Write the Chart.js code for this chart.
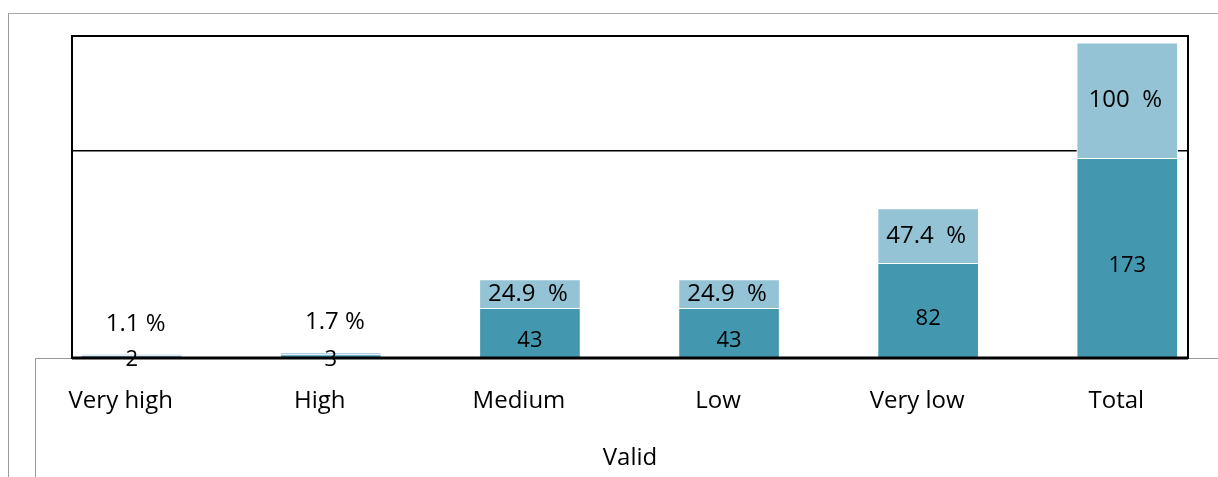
<!DOCTYPE html>
<html>
<head>
<meta charset="utf-8">
<script src="https://cdn.jsdelivr.net/npm/chart.js@4/dist/chart.umd.min.js"></script>
<style>
  html, body { margin: 0; padding: 0; background: #fff; }
  #wrap { position: relative; width: 1218px; height: 477px; overflow: hidden; }
  #frame { position: absolute; left: 8px; top: 13px; right: -2px; bottom: -2px; border-left: 1px solid #999; border-top: 1px solid #aaa; }
  #axisBox { position: absolute; left: 35px; top: 358px; right: -2px; bottom: -2px; border-left: 1px solid #999; border-top: 1px solid #999; }
  canvas { position: absolute; left: 0; top: 0; }
</style>
</head>
<body>
<div id="wrap">
  <div id="frame"></div>
  <div id="axisBox"></div>
  <canvas id="myChart" width="1218" height="477"></canvas>
</div>
<script>
'use strict';
let categories = ['Very high', 'High', 'Medium', 'Low', 'Very low', 'Total'];
let counts = [2, 3, 43, 43, 82, 173];
let percents = [1.1, 1.7, 24.9, 24.9, 47.4, 100];
let axisTitle = 'Valid';

let darkColor = '#4398b0';
let lightColor = '#93c3d5';
let fontName = 'Open Sans';

// labels for the bar segments, drawn at each bar element
let barLabels = {
    id: 'barLabels',
    afterDatasetsDraw(chart) {
        let ctx = chart.ctx;
        ctx.save();
        ctx.fillStyle = '#000';
        ctx.textAlign = 'center';
        ctx.textBaseline = 'middle';
        chart.data.datasets.forEach(function (ds, d) {
            let meta = chart.getDatasetMeta(d);
            meta.data.forEach(function (bar, i) {
                let p = bar.getProps(['x', 'y', 'base'], true);
                let h = Math.abs(p.base - p.y);
                let cy = (p.y + p.base) / 2;
                if (d === 0) {
                    ctx.font = '22px "' + fontName + '"';
                    if (h < 12) cy = cy + 3;
                    else cy = cy + 8;
                    ctx.fillText(String(counts[i]), p.x, cy);
                } else {
                    ctx.font = '24px "' + fontName + '"';
                    if (h < 20) {
                        ctx.fillText(percents[i] + ' %', p.x + 4, p.y - 30);
                    } else {
                        ctx.fillText(percents[i] + '\u00a0 %', p.x - 2, cy);
                    }
                }
            });
        });
        ctx.restore();
    }
};

// black box round the plot area
let plotBox = {
    id: 'plotBox',
    afterDraw(chart) {
        let a = chart.chartArea;
        let ctx = chart.ctx;
        ctx.save();
        ctx.strokeStyle = '#000';
        ctx.lineWidth = 2;
        ctx.strokeRect(a.left, a.top, a.right - a.left, a.bottom - a.top);
        ctx.lineWidth = 3;
        ctx.beginPath();
        ctx.moveTo(a.left, a.bottom);
        ctx.lineTo(a.right, a.bottom);
        ctx.stroke();
        ctx.restore();
    }
};

let ctx = document.getElementById('myChart').getContext('2d');
let myChart = new Chart(ctx, {
    type: 'bar',
    data: {
        datasets: [{
            label: 'Frequency',
            data: counts.map(function (v, i) { return { x: i, y: v }; }),
            backgroundColor: darkColor,
            borderColor: '#ffffff',
            borderWidth: 1,
            barThickness: 101
        }, {
            label: 'Percent',
            data: percents.map(function (v, i) { return { x: i, y: v }; }),
            backgroundColor: lightColor,
            borderColor: '#ffffff',
            borderWidth: 1,
            barThickness: 101
        }]
    },
    options: {
        responsive: false,
        animation: false,
        layout: { padding: { left: 72, right: 30, top: 36, bottom: 0 } },
        plugins: {
            legend: { display: false },
            tooltip: { enabled: false }
        },
        scales: {
            x: {
                type: 'linear',
                stacked: true,
                offset: false,
                min: -0.3,
                max: 5.305,
                afterBuildTicks: function (scale) {
                    scale.ticks = categories.map(function (c, i) { return { value: i }; });
                },
                afterFit: function (scale) { scale.height = 119; },
                grid: { display: false, drawTicks: false },
                border: { display: false },
                ticks: {
                    padding: 29,
                    labelOffset: -11,
                    maxRotation: 0,
                    autoSkip: false,
                    color: '#000',
                    font: { family: fontName, size: 24 },
                    callback: function (v) { return categories[v]; }
                },
                title: {
                    display: true,
                    text: axisTitle,
                    color: '#000',
                    font: { family: fontName, size: 24 },
                    padding: { top: 0, bottom: 4 }
                }
            },
            y: {
                stacked: true,
                min: 0,
                max: 279,
                afterBuildTicks: function (scale) {
                    scale.ticks = [{ value: 180 }];
                },
                afterFit: function (scale) { scale.width = 0; },
                grid: { color: '#000', lineWidth: 1.5, drawTicks: false },
                border: { display: false },
                ticks: { display: false }
            }
        }
    },
    plugins: [barLabels, plotBox]
});
</script>
</body>
</html>
